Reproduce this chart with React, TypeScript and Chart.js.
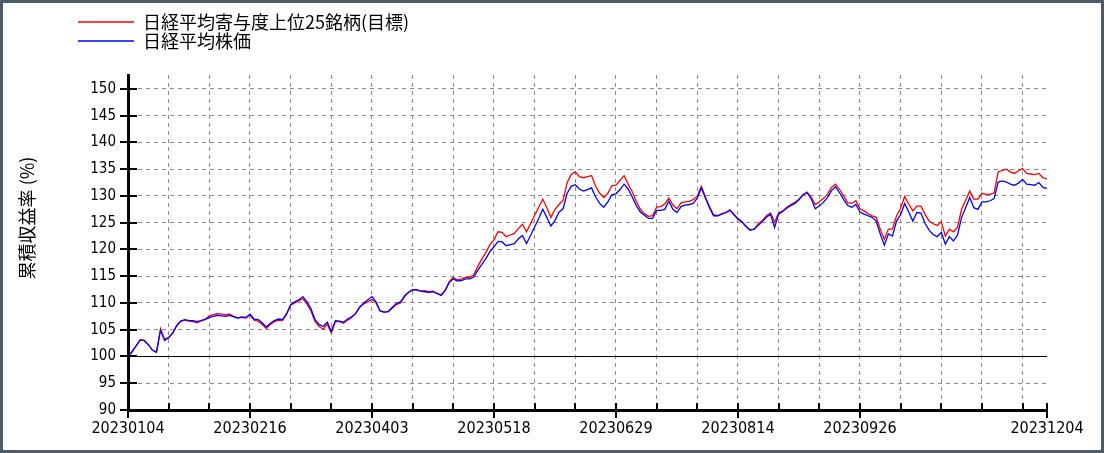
import React, { useEffect, useRef } from 'react';
import { Chart, registerables } from 'chart.js';

// Register all Chart.js components
Chart.register(...registerables);

// x axis: trading-day index from 2023-01-04
const tickDates = ['20230104', '20230216', '20230403', '20230518', '20230629', '20230814', '20230926', '20231204'];
const tickDays = [0, 30, 60, 90, 120, 150, 180, 226];
const gridDays = [0, 10, 20, 30, 40, 50, 60, 70, 80, 90, 100, 110, 120, 130, 140, 150, 160, 170, 180, 190, 200, 210, 220, 226];
const yTicks = [90, 95, 100, 105, 110, 115, 120, 125, 130, 135, 140, 145, 150];

const seriesNames = ['日経平均寄与度上位25銘柄(目標)', '日経平均株価'];
const axisTitle = '累積収益率 (%)';

// 日経平均寄与度上位25銘柄(目標)
const top25 = [
  100, 101.0, 102.0, 103.1, 103.0, 102.2, 101.2, 100.8, 105.2, 103.2,
  103.6, 104.3, 105.8, 106.6, 106.8, 106.6, 106.5, 106.3, 106.7, 107.0,
  107.6, 107.8, 108.0, 107.9, 107.8, 107.9, 107.5, 107.2, 107.3, 107.2,
  107.8, 106.8, 106.6, 106.0, 105.2, 106.0, 106.5, 106.8, 106.7, 107.9,
  109.6, 110.0, 110.4, 110.8, 109.8, 108.5, 106.5, 105.6, 105.1, 106.0,
  104.4, 106.5, 106.5, 106.2, 106.8, 107.3, 108.1, 109.3, 109.8, 110.2,
  110.7, 110.0, 108.5, 108.3, 108.4, 109.0, 109.7, 110.0, 111.2, 112.0,
  112.4, 112.4, 112.2, 112.3, 112.1, 112.2, 111.8, 111.5, 112.4, 114.0,
  114.8, 114.3, 114.5, 114.8, 114.8, 115.2, 116.8, 118.2, 119.4, 120.9,
  121.8, 123.3, 123.2, 122.4, 122.7, 123.0, 123.9, 124.7, 123.3, 124.8,
  126.4, 127.9, 129.4, 127.8, 126.0, 127.5, 128.4, 129.2, 132.5, 134.0,
  134.5, 133.6, 133.4, 133.6, 133.8, 131.8, 130.5, 129.7, 130.5, 131.9,
  132.0, 132.9, 133.8, 132.2, 130.8, 129.0, 127.5, 126.7, 126.2, 126.3,
  127.9, 128.0, 128.5, 129.6, 128.3, 127.6, 128.7, 128.9, 129.0, 129.3,
  130.0, 131.8, 129.8, 128.0, 126.5, 126.3, 126.7, 126.9, 127.4, 126.6,
  125.6, 125.1, 124.3, 123.7, 123.8, 124.8, 125.4, 126.3, 126.8, 125.1,
  126.8, 127.2, 127.9, 128.4, 128.8, 129.4, 130.2, 130.7, 129.8, 128.4,
  128.9, 129.5, 130.3, 131.6, 132.2, 131.2, 130.0, 128.7, 128.6, 129.1,
  127.6, 127.2, 126.7, 126.3, 126.0, 123.8, 121.9, 123.8, 123.8, 126.3,
  127.7, 129.9, 128.5, 127.2, 128.1, 128.1, 126.6, 125.3, 124.8, 124.5,
  125.2, 122.5, 123.8, 123.3, 124.1, 127.5, 129.2, 130.9, 129.4, 129.4,
  130.5, 130.3, 130.3, 130.6, 134.5, 134.8, 135.0, 134.5, 134.2, 134.7,
  135.1, 134.2, 134.1, 134.0, 134.2, 133.4, 133.2,
];

// 日経平均株価
const nikkei = [
  100, 100.8, 102.0, 103.1, 103.0, 102.2, 101.2, 100.8, 104.9, 103.0,
  103.5, 104.4, 105.8, 106.6, 106.9, 106.7, 106.7, 106.5, 106.7, 106.9,
  107.3, 107.5, 107.7, 107.6, 107.5, 107.7, 107.4, 107.2, 107.4, 107.3,
  107.9, 107.0, 106.9, 106.3, 105.5, 106.2, 106.7, 107.0, 106.9, 108.0,
  109.7, 110.2, 110.6, 111.2, 110.2, 108.9, 106.9, 106.0, 105.6, 106.4,
  104.7, 106.7, 106.6, 106.4, 107.0, 107.4, 108.0, 109.2, 110.0, 110.6,
  111.2, 110.2, 108.5, 108.3, 108.4, 109.2, 109.9, 110.2, 111.3, 112.0,
  112.5, 112.5, 112.2, 112.1, 112.0, 112.1, 111.8, 111.4, 112.3, 113.8,
  114.5, 114.1, 114.2, 114.5, 114.5, 114.8, 116.1, 117.2, 118.3, 119.6,
  120.5, 121.5, 121.4, 120.7, 120.9, 121.1, 122.0, 122.6, 121.1, 122.6,
  124.2, 125.8, 127.5, 126.0, 124.4, 125.4, 127.0, 127.6, 130.5, 131.8,
  132.1, 131.3, 130.9, 131.2, 131.5, 129.8, 128.6, 127.9, 128.9, 130.2,
  130.4, 131.2, 132.2, 131.3, 129.8, 128.2, 127.0, 126.4, 125.8, 125.8,
  127.3, 127.3, 127.5, 129.0, 127.5, 126.9, 128.0, 128.3, 128.4, 128.6,
  129.6, 131.5, 129.6, 127.8, 126.3, 126.3, 126.6, 126.9, 127.3, 126.5,
  125.8, 125.2, 124.3, 123.6, 123.8, 124.5, 125.2, 126.0, 126.6, 124.1,
  126.6, 127.1, 127.7, 128.2, 128.6, 129.3, 130.2, 130.6, 129.5, 127.6,
  128.1, 128.8, 129.7, 131.0, 131.7, 130.6, 129.3, 128.2, 127.9, 128.4,
  127.0, 126.6, 126.3, 126.0, 125.3, 122.9, 120.8, 122.9, 122.5, 125.3,
  126.5, 128.6, 127.0, 125.3, 126.9, 126.8, 124.9, 123.6, 122.8, 122.4,
  123.2, 121.0, 122.4, 121.6, 122.7, 126.0, 127.8, 129.7, 127.8, 127.5,
  128.9, 128.9, 129.1, 129.5, 132.6, 132.8, 132.6, 132.2, 132.0, 132.4,
  133.1, 132.2, 132.1, 132.0, 132.5, 131.6, 131.4,
];

const RED = '#ff0000';
const BLUE = '#0000ff';
const GRID = '#8c8c8c';
const NUM_FONT = 'DejaVu Sans Condensed';
const JP_FONT = '"Noto Sans CJK JP"';

// extra drawing: inner tick marks, 100 baseline, legend, axis title, frame
const decorPlugin = {
  id: 'decor',
  beforeDatasetsDraw(chart: any) {
    const { ctx, chartArea, scales } = chart;
    const y = Math.round(scales.y.getPixelForValue(100)) + 0.5;
    ctx.save();
    ctx.strokeStyle = '#000';
    ctx.lineWidth = 1;
    ctx.beginPath();
    ctx.moveTo(chartArea.left, y);
    ctx.lineTo(chartArea.right, y);
    ctx.stroke();
    ctx.restore();
  },
  afterDraw(chart: any) {
    const { ctx, chartArea, scales } = chart;
    ctx.save();
    ctx.strokeStyle = '#000';
    ctx.lineWidth = 2;

    // y tick marks crossing the axis
    yTicks.forEach(v => {
      const y = Math.round(scales.y.getPixelForValue(v));
      ctx.beginPath();
      ctx.moveTo(chartArea.left - 8, y);
      ctx.lineTo(chartArea.left + 9, y);
      ctx.stroke();
    });

    // x tick marks, longer where labelled
    gridDays.forEach(v => {
      const x = Math.round(scales.x.getPixelForValue(v));
      const labelled = tickDays.includes(v);
      ctx.beginPath();
      ctx.moveTo(x, chartArea.bottom - 7);
      ctx.lineTo(x, chartArea.bottom + (labelled ? 8 : 0));
      ctx.stroke();
    });

    // legend
    const rows = [
      { name: seriesNames[0], color: RED, y: 22 },
      { name: seriesNames[1], color: BLUE, y: 41 },
    ];
    rows.forEach(r => {
      ctx.strokeStyle = r.color;
      ctx.lineWidth = 1.5;
      ctx.beginPath();
      ctx.moveTo(78, r.y);
      ctx.lineTo(134, r.y);
      ctx.stroke();
      ctx.fillStyle = '#000';
      ctx.font = `18px ${JP_FONT}`;
      ctx.textAlign = 'left';
      ctx.textBaseline = 'middle';
      ctx.fillText(r.name, 143, r.y);
    });

    // y axis title
    ctx.save();
    ctx.translate(27, 218);
    ctx.rotate(-Math.PI / 2);
    ctx.fillStyle = '#000';
    ctx.font = `18px ${JP_FONT}`;
    ctx.textAlign = 'center';
    ctx.textBaseline = 'middle';
    ctx.fillText(axisTitle, 0, 0);
    ctx.restore();

    // frame
    ctx.strokeStyle = '#4c5a69';
    ctx.lineWidth = 3;
    ctx.strokeRect(1.5, 1.5, chart.width - 3, chart.height - 3);
    ctx.restore();
  },
};

const App: React.FC = () => {
  const chartRef = useRef<HTMLCanvasElement | null>(null);
  const chartInstance = useRef<Chart | null>(null);

  useEffect(() => {
    if (!chartRef.current) return;
    const ctx = chartRef.current.getContext('2d');
    if (!ctx) return;

    if (chartInstance.current) {
      chartInstance.current.destroy();
    }

    chartInstance.current = new Chart(ctx, {
      type: 'line',
      data: {
        datasets: [
          {
            label: seriesNames[0],
            data: top25.map((v, i) => ({ x: i, y: v })),
            borderColor: RED,
            backgroundColor: RED,
            borderWidth: 1.3,
            pointRadius: 0,
            tension: 0,
            fill: false,
            order: 1,
          },
          {
            label: seriesNames[1],
            data: nikkei.map((v, i) => ({ x: i, y: v })),
            borderColor: BLUE,
            backgroundColor: BLUE,
            borderWidth: 1.3,
            pointRadius: 0,
            tension: 0,
            fill: false,
            order: 0,
          },
        ],
      },
      options: {
        responsive: false,
        animation: false,
        events: [],
        layout: {
          padding: { left: 0, right: 57, top: 75, bottom: 0 },
        },
        plugins: {
          legend: { display: false },
          tooltip: { enabled: false },
        },
        scales: {
          x: {
            type: 'linear',
            min: 0,
            max: 226,
            afterBuildTicks: (s: any) => {
              s.ticks = gridDays.map(v => ({ value: v }));
            },
            afterFit: (s: any) => {
              s.height = 43;
            },
            ticks: {
              autoSkip: false,
              maxRotation: 0,
              minRotation: 0,
              padding: 9,
              color: '#000',
              font: { family: NUM_FONT, size: 16 },
              callback: (value: any) => {
                const k = tickDays.indexOf(Number(value));
                return k >= 0 ? tickDates[k] : '';
              },
            },
            grid: {
              drawTicks: false,
              lineWidth: 1,
              color: (c: any) =>
                c.tick && (c.tick.value === 0 || c.tick.value === 226) ? 'rgba(0,0,0,0)' : GRID,
            },
            border: { display: true, color: '#000', width: 3, dash: [4, 4] },
          },
          y: {
            type: 'linear',
            min: 90,
            max: 152.6,
            afterBuildTicks: (s: any) => {
              s.ticks = yTicks.map(v => ({ value: v }));
            },
            afterFit: (s: any) => {
              s.width = 128;
            },
            ticks: {
              padding: 12,
              color: '#000',
              font: { family: NUM_FONT, size: 15 },
              callback: (value: any) => String(value),
            },
            grid: {
              drawTicks: false,
              lineWidth: 1,
              color: (c: any) =>
                c.tick && (c.tick.value === 90 || c.tick.value === 100) ? 'rgba(0,0,0,0)' : GRID,
            },
            border: { display: true, color: '#000', width: 3, dash: [4, 4] },
          },
        },
      },
      plugins: [decorPlugin],
    } as any);

    // Cleanup
    return () => {
      if (chartInstance.current) {
        chartInstance.current.destroy();
        chartInstance.current = null;
      }
    };
  }, []);

  return (
    <div style={{ position: 'fixed', left: 0, top: 0, width: 1104, height: 453, background: '#fff' }}>
      <canvas ref={chartRef} width={1104} height={453} style={{ width: 1104, height: 453, display: 'block' }} />
    </div>
  );
};

export default App;
